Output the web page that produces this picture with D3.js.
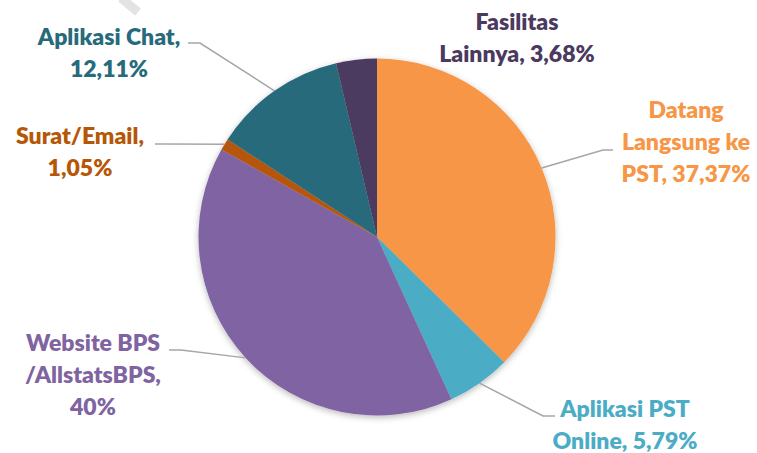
<!DOCTYPE html>
<html>
<head>
<meta charset="utf-8">
<script src="https://cdn.jsdelivr.net/npm/d3@7/dist/d3.min.js"></script>
<style>
  html, body { margin: 0; padding: 0; background: #fff; }
  svg { display: block; }
  text { font-family: "Lato", "Open Sans", sans-serif; font-weight: 800; }
</style>
</head>
<body>
<svg id="chart" width="757" height="453"></svg>
<script>
// ---- data ----
const categories = ["Datang Langsung ke PST", "Aplikasi PST Online", "Website BPS /AllstatsBPS", "Surat/Email", "Aplikasi Chat", "Fasilitas Lainnya"];
const values = [37.37, 5.79, 40, 1.05, 12.11, 3.68];
const valueLabels = ["37,37%", "5,79%", "40%", "1,05%", "12,11%", "3,68%"];
const labelLines = [
  ["Datang", "Langsung ke", "PST, 37,37%"],
  ["Aplikasi PST", "Online, 5,79%"],
  ["Website BPS", "/AllstatsBPS,", "40%"],
  ["Surat/Email,", "1,05%"],
  ["Aplikasi Chat,", "12,11%"],
  ["Fasilitas", "Lainnya, 3,68%"]
];
const colors = ["#F79646", "#4BACC6", "#8064A2", "#B65708", "#276A7C", "#4B3A60"];
const textColors = ["#F79646", "#4BACC6", "#8064A2", "#B65708", "#276A7C", "#4B3A60"];

// ---- layout ----
const cx = 377, cy = 237, R = 178.5;
const lineH = 32;
const labelPos = [
  { x: 686, y: 118, leader: [[603, 150], [613, 150]] },
  { x: 625, y: 417, leader: [[543, 416], [555, 416]] },
  { x: 93,  y: 351, leader: [[181, 350], [169, 350]] },
  { x: 80,  y: 144, leader: [[168, 144], [155, 144]] },
  { x: 109, y: 45,  leader: [[200, 43], [188, 43]] },
  { x: 517, y: 30,  leader: null }
];

const svg = d3.select("#chart");

// watermark fragment
svg.append("line")
  .attr("x1", 121).attr("y1", -2).attr("x2", 138).attr("y2", 12)
  .attr("stroke", "#e3e3e3").attr("stroke-width", 9);

const defs = svg.append("defs");
const f = defs.append("filter").attr("id", "shadow")
  .attr("x", "-20%").attr("y", "-20%").attr("width", "140%").attr("height", "140%");
f.append("feDropShadow").attr("dx", 0).attr("dy", 2).attr("stdDeviation", 3)
  .attr("flood-color", "#000").attr("flood-opacity", 0.28);

const data = categories.map((c, i) => ({ name: c, value: values[i], i }));
const pie = d3.pie().value(d => d.value).sort(null);
const arcs = pie(data);
const arc = d3.arc().innerRadius(0).outerRadius(R);

const g = svg.append("g").attr("transform", `translate(${cx},${cy})`);
g.append("g").attr("filter", "url(#shadow)")
  .selectAll("path").data(arcs).enter().append("path")
  .attr("d", arc)
  .attr("fill", d => colors[d.data.i]);

// leader lines
arcs.forEach(a => {
  const p = labelPos[a.data.i];
  if (!p.leader) return;
  const mid = (a.startAngle + a.endAngle) / 2;
  const sx = cx + R * Math.sin(mid), sy = cy - R * Math.cos(mid);
  const pts = [[sx, sy]].concat(p.leader);
  svg.append("path")
    .attr("d", d3.line()(pts))
    .attr("fill", "none")
    .attr("stroke", "#A6A6A6")
    .attr("stroke-width", 1.5);
});

// labels
arcs.forEach(a => {
  const i = a.data.i;
  const p = labelPos[i];
  const t = svg.append("text")
    .attr("text-anchor", "middle")
    .attr("font-size", 23)
    .attr("fill", textColors[i]);
  labelLines[i].forEach((ln, k) => {
    t.append("tspan").attr("x", p.x).attr("y", p.y + k * lineH).text(ln);
  });
});
</script>
</body>
</html>
